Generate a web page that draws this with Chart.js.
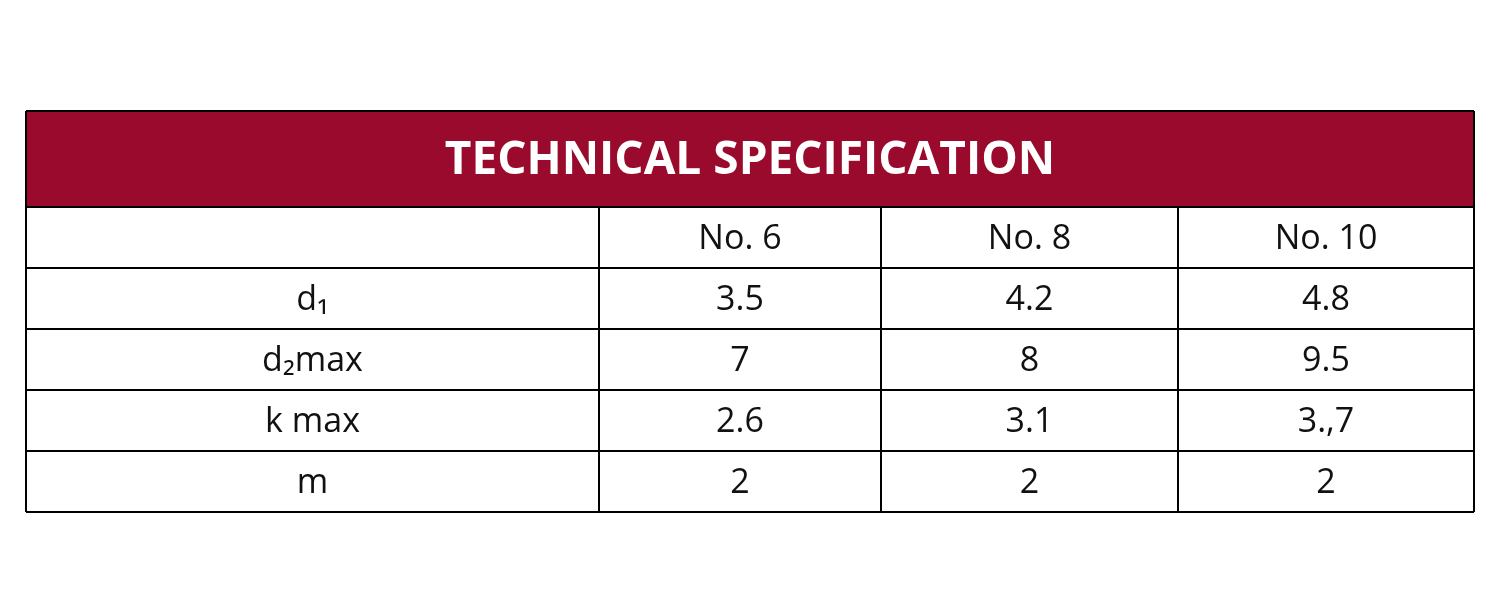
<!DOCTYPE html>
<html>
<head>
<meta charset="utf-8">
<script src="https://cdn.jsdelivr.net/npm/chart.js@4"></script>
<style>
  html, body { margin: 0; padding: 0; background: #fff; }
  #wrap { width: 1500px; height: 600px; }
</style>
</head>
<body>
<div id="wrap"><canvas id="specTable" width="1500" height="600"></canvas></div>
<script>
// table content
const title = 'TECHNICAL SPECIFICATION';
const sizes = ['No. 6', 'No. 8', 'No. 10'];
const rowLabels = ['d₁', 'd₂max', 'k max', 'm'];
const no6 = ['3.5', '7', '2.6', '2'];
const no8 = ['4.2', '8', '3.1', '2'];
const no10 = ['4.8', '9.5', '3.,7', '2'];

// layout in scale units (scales span 0..1500 x 0..600)
const colEdges = [26, 599, 881, 1178, 1474];
const rowEdges = [111, 207, 268, 329, 390, 451, 512];

const tablePlugin = {
  id: 'tablePlugin',
  afterDraw(chart) {
    const ctx = chart.ctx;
    const xs = chart.scales.x, ys = chart.scales.y;
    const X = v => xs.getPixelForValue(v);
    const Y = v => ys.getPixelForValue(v);
    const left = X(colEdges[0]), right = X(colEdges[colEdges.length - 1]);

    // header band
    ctx.save();
    ctx.fillStyle = '#990a2c';
    ctx.fillRect(left, Y(rowEdges[0]), right - left, Y(rowEdges[1]) - Y(rowEdges[0]));
    ctx.fillStyle = '#fff';
    ctx.font = 'bold 46px "Open Sans", sans-serif';
    ctx.textAlign = 'center';
    ctx.textBaseline = 'middle';
    ctx.fillText(title, (left + right) / 2, (Y(rowEdges[0]) + Y(rowEdges[1])) / 2 + 2);

    // body rows
    const rows = [['', ...sizes]];
    rowLabels.forEach((lab, i) => rows.push([lab, no6[i], no8[i], no10[i]]));
    ctx.fillStyle = '#111';
    ctx.font = '34px "Open Sans", sans-serif';
    rows.forEach((r, ri) => {
      const cy = (Y(rowEdges[ri + 1]) + Y(rowEdges[ri + 2])) / 2 + 2;
      r.forEach((txt, ci) => {
        const cx = (X(colEdges[ci]) + X(colEdges[ci + 1])) / 2;
        ctx.fillText(txt, cx, cy);
      });
    });

    // grid lines
    ctx.strokeStyle = '#000';
    ctx.lineWidth = 2;
    ctx.beginPath();
    rowEdges.forEach(r => { ctx.moveTo(left, Y(r)); ctx.lineTo(right, Y(r)); });
    ctx.moveTo(left, Y(rowEdges[0])); ctx.lineTo(left, Y(rowEdges[rowEdges.length - 1]));
    ctx.moveTo(right, Y(rowEdges[0])); ctx.lineTo(right, Y(rowEdges[rowEdges.length - 1]));
    colEdges.slice(1, -1).forEach(c => {
      ctx.moveTo(X(c), Y(rowEdges[1])); ctx.lineTo(X(c), Y(rowEdges[rowEdges.length - 1]));
    });
    ctx.stroke();
    ctx.restore();
  }
};

new Chart(document.getElementById('specTable'), {
  type: 'scatter',
  data: { datasets: [{ data: [] }] },
  options: {
    responsive: false,
    animation: false,
    layout: { padding: 0 },
    plugins: { legend: { display: false }, tooltip: { enabled: false } },
    scales: {
      x: { type: 'linear', min: 0, max: 1500, display: false },
      y: { type: 'linear', min: 0, max: 600, reverse: true, display: false }
    }
  },
  plugins: [tablePlugin]
});
</script>
</body>
</html>
